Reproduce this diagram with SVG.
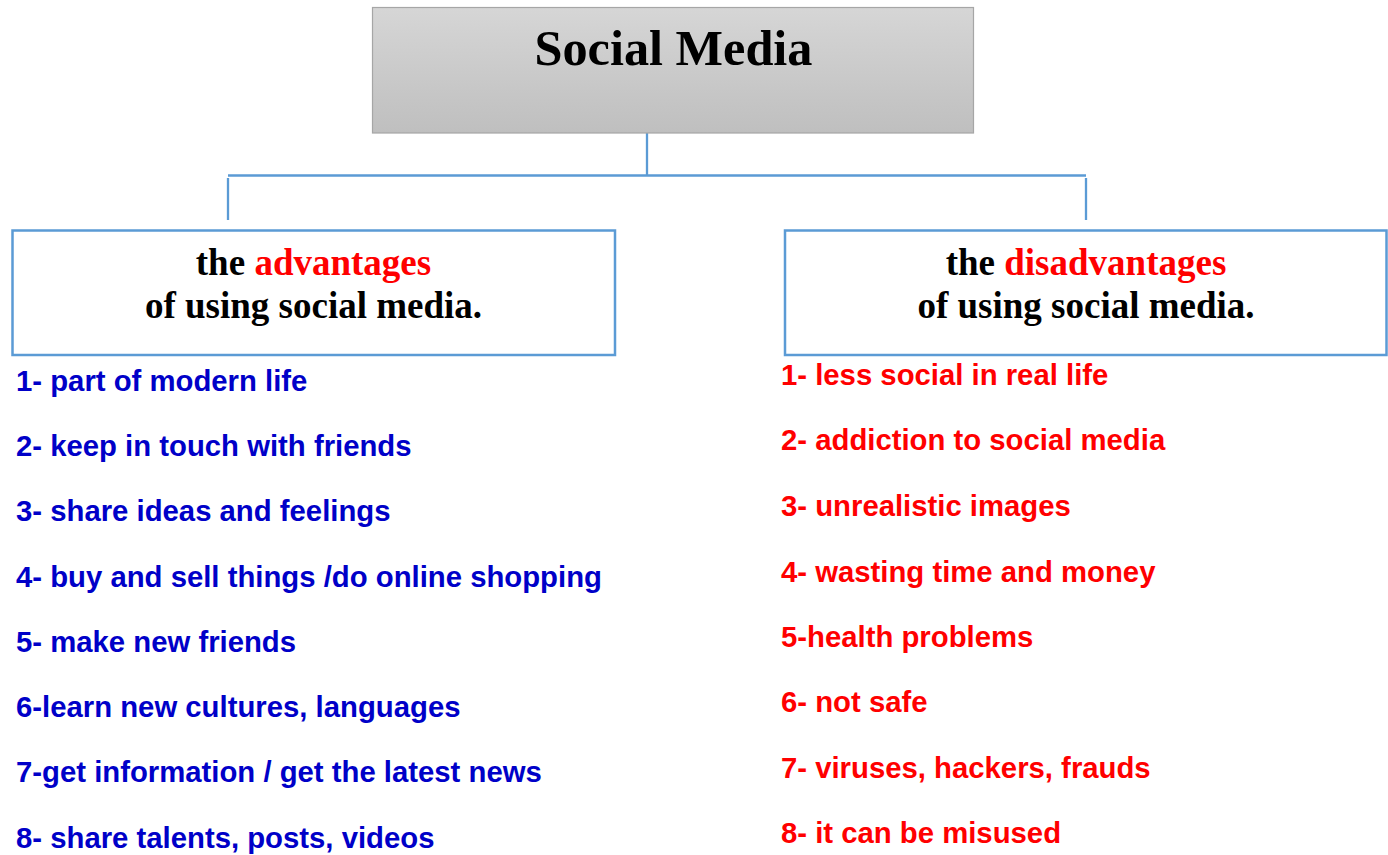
<svg xmlns="http://www.w3.org/2000/svg" width="1388" height="855" viewBox="0 0 1388 855">
<defs>
<linearGradient id="gray" x1="0" y1="0" x2="0" y2="1">
<stop offset="0" stop-color="#d6d6d6"/>
<stop offset="1" stop-color="#bfbfbf"/>
</linearGradient>
<style>
.title{font-family:"Liberation Serif","Times New Roman",serif;font-weight:bold;font-size:50.3px;fill:#000;text-anchor:middle}
.head{font-family:"Liberation Serif","Times New Roman",serif;font-weight:bold;font-size:37px;fill:#000;text-anchor:middle}
.hl{fill:#ff0000}
.box{fill:#fff;stroke:#5b9bd5;stroke-width:2.5}
.conn{fill:none;stroke:#5b9bd5;stroke-width:2.3}
.adv{font-family:"Liberation Sans",Arial,sans-serif;font-weight:bold;font-size:29.3px;fill:#0000c8}
.dis{font-family:"Liberation Sans",Arial,sans-serif;font-weight:bold;font-size:29.3px;fill:#ff0000}
</style>
</defs>
<rect width="1388" height="855" fill="#fff"/>
<g id="connectors">
<path class="conn" d="M647 133 V175.5 M228 175.5 H1086 M228 178 V220 M1086 178 V220"/>
</g>
<g id="social-media">
<rect x="372.5" y="7.5" width="601" height="125.5" fill="url(#gray)" stroke="#a6a6a6" stroke-width="1.2"/>
<text class="title" x="673.5" y="65">Social Media</text>
</g>
<g id="advantages">
<rect class="box" x="12.5" y="230.5" width="602.5" height="124.5"/>
<text class="head" x="313.5" y="275">the <tspan class="hl">advantages</tspan></text>
<text class="head" x="313.5" y="318">of using social media.</text>
</g>
<g id="disadvantages">
<rect class="box" x="785" y="230.5" width="601.5" height="124.5"/>
<text class="head" x="1086" y="275">the <tspan class="hl">disadvantages</tspan></text>
<text class="head" x="1086" y="318">of using social media.</text>
</g>
<g id="advantages-list">
<text class="adv" x="16" y="391">1- part of modern life</text>
<text class="adv" x="16" y="456">2- keep in touch with friends</text>
<text class="adv" x="16" y="521">3- share ideas and feelings</text>
<text class="adv" x="16" y="586.5">4- buy and sell things /do online shopping</text>
<text class="adv" x="16" y="652">5- make new friends</text>
<text class="adv" x="16" y="717">6-learn new cultures, languages</text>
<text class="adv" x="16" y="782">7-get information / get the latest news</text>
<text class="adv" x="16" y="847.5">8- share talents, posts, videos</text>
</g>
<g id="disadvantages-list">
<text class="dis" x="781" y="385">1- less social in real life</text>
<text class="dis" x="781" y="450">2- addiction to social media</text>
<text class="dis" x="781" y="516">3- unrealistic images</text>
<text class="dis" x="781" y="581.5">4- wasting time and money</text>
<text class="dis" x="781" y="647">5-health problems</text>
<text class="dis" x="781" y="712">6- not safe</text>
<text class="dis" x="781" y="777.5">7- viruses, hackers, frauds</text>
<text class="dis" x="781" y="843">8- it can be misused</text>
</g>
</svg>
